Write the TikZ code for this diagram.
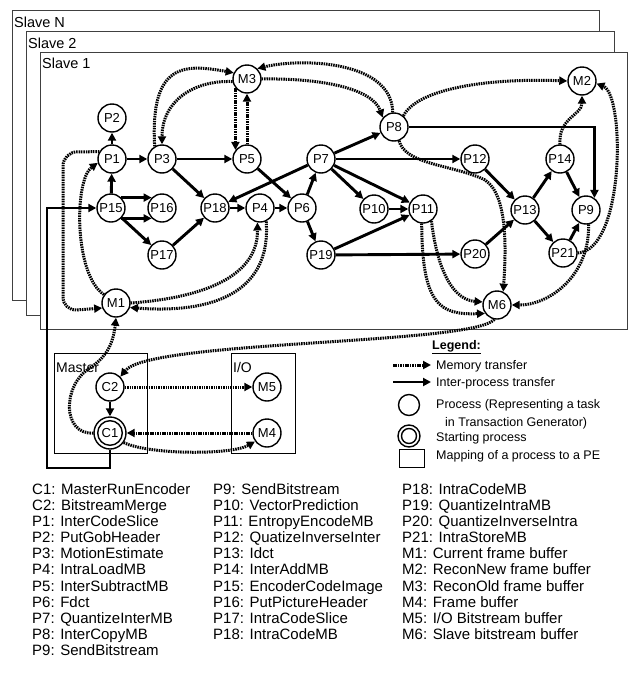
\documentclass[tikz,border=0pt]{standalone}
\usepackage{fontspec}
\setmainfont{Liberation Sans}
\usetikzlibrary{arrows.meta}
\begin{document}
\begin{tikzpicture}[x=1pt,y=-1pt,
  proc/.style={circle,draw,line width=1.4pt,minimum size=28pt,inner sep=0pt,fill=white,
    font=\fontsize{13}{13}\selectfont,text height=9.3pt,text depth=0pt},
  ipt/.style={line width=2.9pt,-{Triangle[length=8pt,width=8pt]}},
  mem/.style={line width=3pt,dash pattern=on 1.5pt off 0.9pt,-{Triangle[length=8pt,width=8pt]}},
  frame/.style={draw=black!75,line width=0.9pt,fill=white},
  lbl/.style={anchor=base west,inner sep=0pt,font=\fontsize{14.5}{16}\selectfont},
  listtext/.style={anchor=base west,inner sep=0pt,font=\fontsize{15}{16}\selectfont},
  legtext/.style={anchor=base west,inner sep=0pt,font=\fontsize{12.5}{14}\selectfont}
]
\useasboundingbox (0,0) rectangle (628,675);
% slave frames
\draw[frame] (12,10) rectangle (599,300);
\draw[frame] (26,31) rectangle (614,315);
\draw[frame] (40,52) rectangle (627,329);
\node[lbl] (lblN) at (14,27) {Slave N};
\node[lbl] (lbl2) at (28,48) {Slave 2};
\node[lbl] (lbl1) at (42,68) {Slave 1};
% master and I/O boxes
\draw[line width=0.9pt] (54,353) rectangle (147,453);
\draw[line width=0.9pt] (231,353) rectangle (295,453);
\node[lbl,font=\fontsize{14}{16}\selectfont] (lblM) at (56,372) {Master};
\node[lbl,font=\fontsize{14}{16}\selectfont] (lblIO) at (233,372) {I/O};
% nodes
\node[proc] (M3) at (247,79) {M3};
\node[proc] (P2) at (112,118) {P2};
\node[proc] (P1) at (112,159) {P1};
\node[proc] (P3) at (162,159) {P3};
\node[proc] (P5) at (247,159) {P5};
\node[proc] (P7) at (321,159) {P7};
\node[proc] (P8) at (394,127) {P8};
\node[proc] (P12) at (475,159) {P12};
\node[proc] (P14) at (560,159) {P14};
\node[proc] (M2) at (582,81) {M2};
\node[proc] (P9) at (586,210) {P9};
\node[proc] (P13) at (525,210) {P13};
\node[proc] (P21) at (563,253) {P21};
\node[proc] (P20) at (475,254) {P20};
\node[proc] (P11) at (423,209) {P11};
\node[proc] (P10) at (374,209) {P10};
\node[proc] (P19) at (321,255) {P19};
\node[proc] (M6) at (497,305) {M6};
\node[proc] (P6) at (302,208) {P6};
\node[proc] (P4) at (260,208) {P4};
\node[proc] (P18) at (215,208) {P18};
\node[proc] (P16) at (162,208) {P16};
\node[proc] (P15) at (111,208) {P15};
\node[proc] (P17) at (162,255) {P17};
\node[proc] (M1) at (116,303) {M1};
\node[proc] (C2) at (110,387) {C2};
\node[proc,minimum size=32pt] (C1) at (110,433) {C1};
\draw[line width=1.4pt] (C1.center) circle[radius=12.3pt];
\node[proc] (M5) at (267,387) {M5};
\node[proc] (M4) at (267,433) {M4};
% inter-process transfers
\draw[ipt] (P1) -- (P2);
\draw[ipt] (P15) -- (P1);
\draw[ipt] (P1) -- (P3);
\draw[ipt] (P3) -- (P5);
\draw[ipt] (P3) -- (P18);
\draw[ipt] (P15.45) -- (P16.135);
\draw[ipt] (P15.-45) -- (P16.-135);
\draw[ipt] (P15) -- (P17);
\draw[ipt] (P17) -- (P18);
\draw[ipt] (P18) -- (P4);
\draw[ipt] (P4) -- (P6);
\draw[ipt] (P5) -- (P6);
\draw[ipt] (P7) -- (P18);
\draw[ipt] (P6) -- (P7);
\draw[ipt] (P6) -- (P19);
\draw[ipt] (P7) -- (P8);
\draw[ipt] (P7) -- (P12);
\draw[ipt] (P7) -- (P10);
\draw[ipt] (P7) -- (P11);
\draw[ipt] (P10) -- (P11);
\draw[ipt] (P19) -- (P11);
\draw[ipt] (P19) -- (P20);
\draw[ipt] (P12) -- (P13);
\draw[ipt] (P20) -- (P13);
\draw[ipt] (P13) -- (P14);
\draw[ipt] (P13) -- (P21);
\draw[ipt] (P14) -- (P9);
\draw[ipt] (P21) -- (P9);
\draw[ipt] (P8.east) -| (P9.55);
\draw[ipt] (C2) -- (C1);
\coordinate (k1) at (110,468);
\coordinate (k2) at (47,468);
\coordinate (k3) at (47,208);
\draw[ipt] (C1.south) -- (k1) -- (k2) -- (k3) -- (P15.west);
% memory transfers
\draw[mem] (M3.190) .. controls (195,80) and (162,100) .. (P3.north);
\draw[mem] (P3.120) .. controls (150,62) and (185,64) .. (M3.155);
\draw[mem] (M3.218) -- (P5.142);
\draw[mem] (P5.north) -- (M3.south);
\draw[mem] (P8.95) .. controls (392,60) and (300,58) .. (M3.45);
\draw[mem] (M3.east) .. controls (320,78) and (372,88) .. (P8.140);
\draw[mem] (P8.50) .. controls (418,88) and (490,78) .. (M2.west);
\draw[mem] (P14.north) .. controls (558,118) and (582,115) .. (M2.south);
\draw[mem] (P21.east) .. controls (625,250) and (625,95) .. (M2.-10);
\draw[mem] (P9.-80) .. controls (590,275) and (550,305) .. (M6.east);
\coordinate (q1) at (485,180);
\draw[mem] (P8.-70) .. controls (405,165) and (455,165) .. (q1) .. controls (508,195) and (506,250) .. (M6.65);
\draw[mem] (P11.-95) .. controls (422,305) and (440,315) .. (M6.215);
\draw[mem] (P11.-55) .. controls (438,275) and (455,300) .. (M6.168);
\draw[mem] (M6.-100) .. controls (470,345) and (150,340) .. (C2.45);
\draw[mem] (C2.east) -- (M5.west);
\draw[mem] (M4.west) -- (C1.east);
\draw[mem] (C1.-35) .. controls (150,455) and (232,455) .. (M4.-145);
\coordinate (q2) at (90,368);
\draw[mem] (C1.west) .. controls (62,435) and (62,385) .. (q2) .. controls (106,357) and (113,345) .. (M1.south);
\draw[mem] (M1.east) .. controls (200,298) and (258,278) .. (P4.-100);
\draw[mem] (P4.-65) .. controls (272,300) and (200,313) .. (M1.-18);
\coordinate (q3) at (63,152);
\coordinate (q4) at (63,311);
\draw[mem,rounded corners=14pt] (P1.150) -- (q3) -- (q4) -- (M1.200);
\draw[mem] (M1.145) .. controls (74,275) and (74,180) .. (P1.195);
% legend
\node[legtext] (legT) at (432,349.5) {\underline{\textbf{Legend:}}};
\coordinate (lm1) at (393,365);
\coordinate (lm2) at (431,365);
\draw[mem] (lm1) -- (lm2);
\node[legtext] (legMT) at (436,369.5) {Memory transfer};
\coordinate (li1) at (393,382);
\coordinate (li2) at (431,382);
\draw[ipt] (li1) -- (li2);
\node[legtext] (legIT) at (436,386.5) {Inter-process transfer};
\node[circle,draw,line width=1.4pt,minimum size=21pt,inner sep=0pt] (legP) at (409,405) {};
\node[legtext] (legPT1) at (436,408) {Process (Representing a task};
\node[legtext] (legPT2) at (445,426) {in Transaction Generator)};
\node[circle,draw,line width=1.4pt,minimum size=22pt,inner sep=0pt] (legS) at (409,436) {};
\draw[line width=1.4pt] (legS.center) circle[radius=7.5pt];
\node[legtext] (legST) at (436,441.5) {Starting process};
\node[draw,line width=0.9pt,minimum width=25pt,minimum height=18pt,inner sep=0pt] (legR) at (411.5,458) {};
\node[legtext] (legRT) at (436,459.5) {Mapping of a process to a PE};
% lists
\foreach \t [count=\i] in {C1: MasterRunEncoder, C2: BitstreamMerge, P1: InterCodeSlice, P2: PutGobHeader, P3: MotionEstimate, P4: IntraLoadMB, P5: InterSubtractMB, P6: Fdct, P7: QuantizeInterMB, P8: InterCopyMB, P9: SendBitstream}
  \node[listtext] (la\i) at (32,{494.4+16.1*(\i-1)}) {\t};
\foreach \t [count=\i] in {P9: SendBitstream, P10: VectorPrediction, P11: EntropyEncodeMB, P12: QuatizeInverseInter, P13: Idct, P14: InterAddMB, P15: EncoderCodeImage, P16: PutPictureHeader, P17: IntraCodeSlice, P18: IntraCodeMB}
  \node[listtext] (lb\i) at (213,{494.4+16.1*(\i-1)}) {\t};
\foreach \t [count=\i] in {P18: IntraCodeMB, P19: QuantizeIntraMB, P20: QuantizeInverseIntra, P21: IntraStoreMB, M1: Current frame buffer, M2: ReconNew frame buffer, M3: ReconOld frame buffer, M4: Frame buffer, M5: I/O Bitstream buffer, M6: Slave bitstream buffer}
  \node[listtext] (lc\i) at (402,{494.4+16.1*(\i-1)}) {\t};
\end{tikzpicture}
\end{document}
